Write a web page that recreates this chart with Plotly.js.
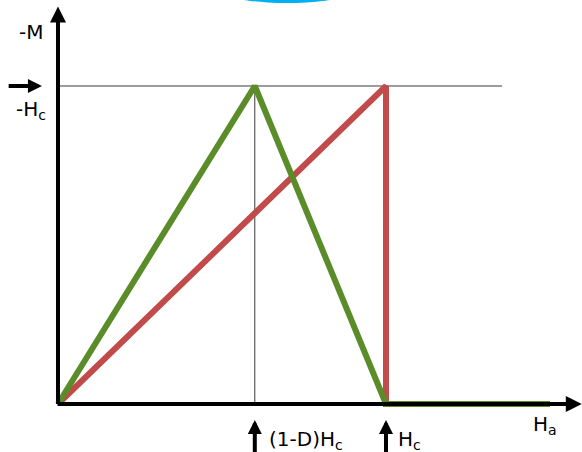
<!DOCTYPE html>
<html>
<head>
<meta charset="utf-8">
<script src="https://cdn.plot.ly/plotly-3.0.1.min.js"></script>
<style>
  html, body { margin: 0; padding: 0; background: #ffffff; }
  #chart { width: 582px; height: 452px; }
</style>
</head>
<body>
<div id="chart"></div>
<script>
// Applied field H_a and magnetisation -M, both in units of the coercive field H_c.
const demagFactor = 0.4;                 // D
const peakField = 1 - demagFactor;       // (1-D)H_c

// Sample with demagnetisation (green): rises to -H_c at (1-D)H_c, falls to zero at H_c.
const greenH = [0, peakField, 1, 1.5];
const greenM = [0, 1, 0, 0];

// Sample without demagnetisation (red): rises to -H_c at H_c, then drops to zero.
const redH = [0, 1, 1, 1.5];
const redM = [0, 1, 0, 0];

// Axis labels and marker labels
const labelM = "-M";
const labelHcLevel = "-H<sub>c</sub>";
const labelHa = "H<sub>a</sub>";
const labelPeak = "(1-D)H<sub>c</sub>";
const labelHc = "H<sub>c</sub>";

// Extents of the drawn axes and guide lines (field units)
const xAxisEnd = 1.597;
const yAxisEnd = 1.25;
const guideEnd = 1.354;

const font = { family: "DejaVu Sans, sans-serif", size: 20, color: "#000000" };
const green = "#5b8c2a";
const red = "#c04b4a";

const traces = [
  { x: redH, y: redM, type: "scatter", mode: "lines",
    line: { color: red, width: 6 }, hoverinfo: "skip" },
  { x: greenH, y: greenM, type: "scatter", mode: "lines",
    line: { color: green, width: 6 }, hoverinfo: "skip" }
];

function arrow(x, y, ax, ay, size) {
  return { x: x, y: y, ax: ax, ay: ay, xref: "x", yref: "y", axref: "x", ayref: "y",
    showarrow: true, arrowhead: 2, arrowsize: size, arrowwidth: 4, arrowcolor: "#000000",
    text: "", standoff: 0, startstandoff: 0 };
}
function label(text, x, y, xanchor) {
  return { x: x, y: y, xref: "x", yref: "y", text: text, showarrow: false,
    xanchor: xanchor, yanchor: "middle", font: font };
}

const layout = {
  width: 582, height: 452,
  margin: { l: 0, r: 0, t: 0, b: 0, pad: 0 },
  paper_bgcolor: "#ffffff", plot_bgcolor: "#ffffff",
  showlegend: false,
  xaxis: { range: [-0.1768, 1.5976], visible: false, fixedrange: true },
  yaxis: { range: [-0.1509, 1.2704], visible: false, fixedrange: true },
  shapes: [
    // blue arc peeking in at the top edge
    { type: "circle", xref: "paper", yref: "paper",
      x0: 187 / 582, x1: 387 / 582, y0: 1 - 3 / 452, y1: 1 + 57 / 452,
      fillcolor: "#00b0f0", line: { width: 0 }, layer: "below" },
    // thin guide lines at -H_c and at (1-D)H_c
    { type: "line", xref: "x", yref: "y", x0: 0, x1: guideEnd, y0: 1, y1: 1,
      line: { color: "#3a3a3a", width: 1 }, layer: "below" },
    { type: "line", xref: "x", yref: "y", x0: peakField, x1: peakField, y0: 0, y1: 1,
      line: { color: "#3a3a3a", width: 1 }, layer: "below" }
  ],
  annotations: [
    // axes with arrow heads
    arrow(0, yAxisEnd, 0, -0.005, 0.8),
    arrow(xAxisEnd, 0, -0.006, 0, 0.8),
    // marker arrows
    arrow(-0.049, 1, -0.155, 1, 0.7),
    arrow(peakField, -0.05, peakField, -0.16, 0.7),
    arrow(1, -0.05, 1, -0.16, 0.7),
    // labels
    label(labelM, -0.040, 1.170, "right"),
    label(labelHcLevel, -0.134, 0.925, "left"),
    label(labelHa, 1.443, -0.065, "left"),
    label(labelPeak, 0.638, -0.112, "left"),
    label(labelHc, 1.032, -0.112, "left")
  ]
};

Plotly.newPlot("chart", traces, layout, { staticPlot: true, displayModeBar: false });
</script>
</body>
</html>
